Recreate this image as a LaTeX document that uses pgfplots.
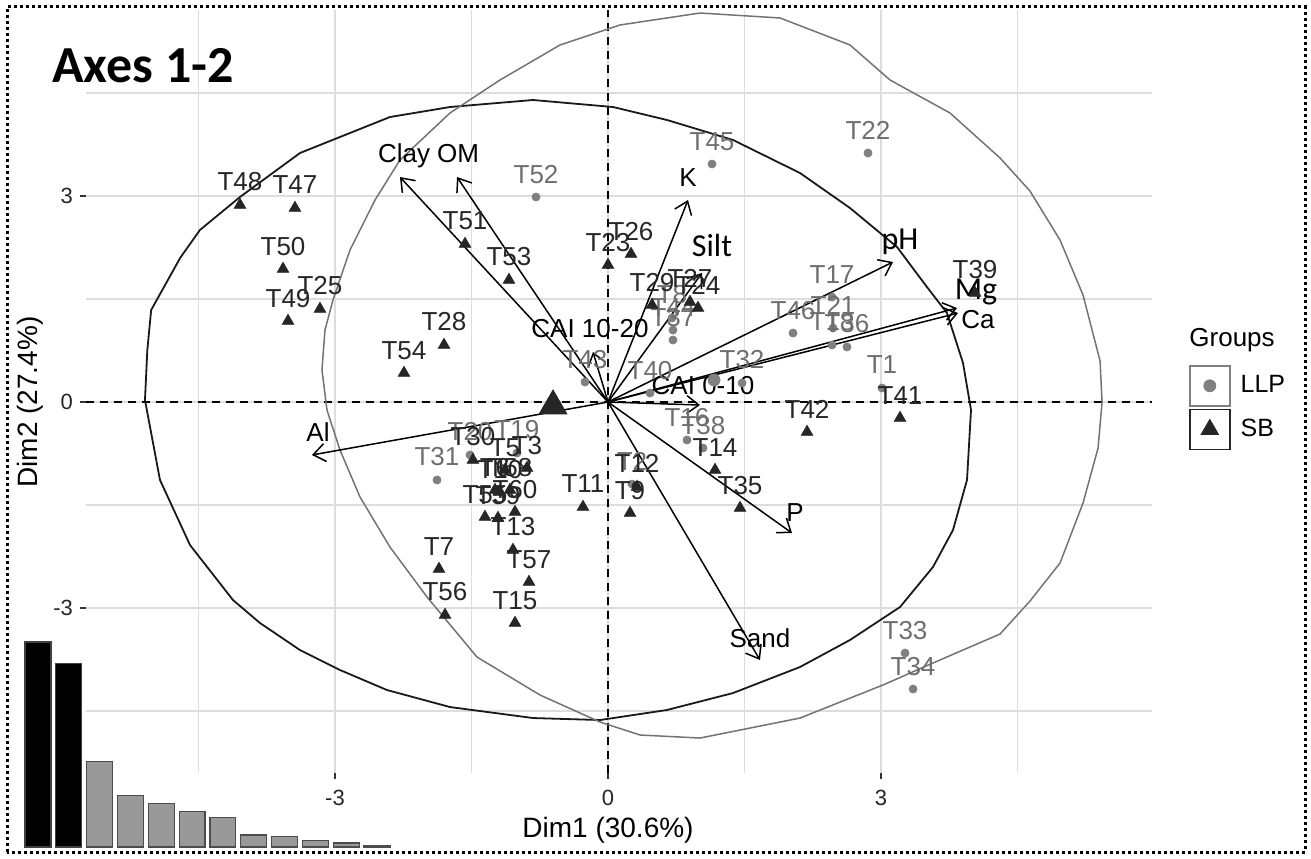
\documentclass[border=0pt]{standalone}
\usepackage{fontspec}
\setmainfont{Liberation Sans}
\newfontfamily\carlito{Carlito}
\usepackage{pgfplots}
\pgfplotsset{compat=1.18}
\usetikzlibrary{arrows.meta}
\definecolor{llp}{HTML}{808080}
\definecolor{llptext}{HTML}{6E6E6E}
\definecolor{sb}{HTML}{262626}
\definecolor{gridc}{HTML}{DDDDDD}
\pgfplotstableread{
x y lab
-4.044 2.868 T48
-3.440 2.824 T47
-3.571 1.936 T50
-3.516 1.179 T49
-3.165 1.354 T25
-1.571 2.300 T51
-1.088 1.776 T53
-1.802 0.830 T28
-2.242 0.422 T54
0.000 1.994 T23
0.253 2.154 T26
0.484 1.412 T29
0.901 1.456 T27
0.989 1.368 T24
4.033 1.587 T39
3.209 -0.233 T41
2.187 -0.437 T42
1.176 -0.990 T14
1.451 -1.543 T35
0.319 -1.237 T12
0.242 -1.616 T9
-0.275 -1.528 T11
-0.890 -0.961 T3
-1.132 -0.990 T5
-1.484 -0.844 T30
-1.077 -1.281 T58
-1.242 -1.281 T6
-1.187 -1.310 T10
-1.022 -1.601 T60
-1.209 -1.689 T59
-1.352 -1.674 T55
-1.044 -2.154 T13
-0.868 -2.620 T57
-1.022 -3.217 T15
-1.857 -2.431 T7
-1.791 -3.100 T56
}\sbtable
\pgfplotstableread{
x y lab
1.143 3.464 T45
2.857 3.624 T22
-0.791 2.984 T52
2.462 1.528 T17
2.033 1.004 T46
2.473 1.077 T21
2.462 0.830 T18
2.626 0.801 T36
3.011 0.204 T1
0.703 1.223 T8
0.714 1.048 T44
0.714 0.902 T37
1.473 0.277 T32
0.462 0.131 T40
-0.253 0.291 T43
0.868 -0.553 T16
1.044 -0.670 T38
0.264 -1.194 T2
-1.000 -0.742 T19
-1.516 -0.771 T20
-1.879 -1.135 T31
3.264 -3.654 T33
3.352 -4.178 T34
}\llptable
\begin{document}
\begin{tikzpicture}[x=0.5pt,y=0.5pt]
\begin{axis}[
  at={(43pt,42.5pt)}, anchor=south west,
  width=533pt, height=381.5pt, scale only axis,
  xmin=-5.736, xmax=5.978, ymin=-5.40, ymax=5.706,
  axis x line*=bottom, axis y line*=left, axis line style={draw=none},
  xtick={-3,0,3}, ytick={-3,0,3},
  minor xtick={-4.5,-1.5,1.5,4.5}, minor ytick={-4.5,-1.5,1.5,4.5},
  grid=both, major grid style={gridc, line width=0.9pt}, minor grid style={gridc, line width=0.75pt},
  tick align=outside, major tick length=3pt, minor tick length=0pt,
  tick style={black!80, line width=0.7pt},
  /pgf/number format/assume math mode=true,
  xticklabel style={font=\fontsize{11}{13}\selectfont, text=black!85, yshift=-2pt},
  yticklabel style={font=\fontsize{11}{13}\selectfont, text=black!85},
  clip=false,
  every axis plot/.append style={forget plot},
]
% zero lines
\addplot[black, line width=0.75pt, dash pattern=on 4pt off 3pt] coordinates {(-5.736,0) (5.978,0)};
\addplot[black, line width=0.75pt, dash pattern=on 4pt off 3pt] coordinates {(0,-5.40) (0,5.706)};
% SB concentration ellipse
\addplot[black!90, line width=0.9pt] coordinates {
(-5.088,0.029) (-5.062,0.757) (-5.020,1.339) (-4.700,2.100) (-4.484,2.504) (-4.044,2.984)
(-3.385,3.624) (-2.396,4.148) (-1.736,4.294) (-0.824,4.396) (0.055,4.294) (0.648,4.105)
(1.374,3.814) (2.110,3.333) (2.659,2.824) (3.176,2.256) (3.505,1.674) (3.725,1.295)
(3.901,0.568) (3.989,-0.116) (3.945,-1.135) (3.791,-1.863) (3.571,-2.402) (3.209,-2.984)
(2.659,-3.464) (2.110,-3.857) (1.374,-4.236) (0.648,-4.483) (-0.088,-4.629) (-0.824,-4.600)
(-1.736,-4.440) (-2.429,-4.192) (-2.945,-3.901) (-3.385,-3.610) (-3.824,-3.217) (-4.121,-2.882)
(-4.593,-2.082) (-4.923,-1.135) (-5.088,0.029)};
% LLP concentration ellipse
\addplot[black!55, line width=0.75pt] coordinates {
(-3.143,0.466) (-3.110,1.048) (-3.022,1.485) (-2.835,2.213) (-2.560,2.940) (-2.286,3.523)
(-1.736,4.207) (-1.187,4.687) (-0.527,5.197) (0.132,5.488) (1.011,5.662) (1.890,5.590)
(2.659,5.197) (3.099,4.687) (3.758,4.207) (4.308,3.552) (4.637,3.071) (4.967,2.358)
(5.220,1.557) (5.407,0.597) (5.429,0.000) (5.385,-0.670) (5.220,-1.470) (4.967,-2.344)
(4.637,-2.897) (4.308,-3.377) (3.571,-3.799) (3.022,-4.119) (2.110,-4.600) (1.011,-4.891)
(0.352,-4.847) (-0.088,-4.658) (-0.747,-4.265) (-1.440,-3.712) (-1.989,-2.838) (-2.396,-2.111)
(-2.725,-1.383) (-2.945,-0.699) (-3.088,-0.116) (-3.143,0.466)};
% individuals
\addplot[only marks, mark=*, mark size=2pt, color=llp,
  nodes near coords, point meta=explicit symbolic, nodes near coords align={anchor=base},
  every node near coord/.append style={anchor=base, yshift=7pt, font=\fontsize{13}{15}\selectfont, text=llptext}]
  table[x=x, y=y, meta=lab] {\llptable};
\addplot[only marks, mark=triangle*, mark size=3.3pt, color=sb,
  nodes near coords, point meta=explicit symbolic, nodes near coords align={anchor=base},
  every node near coord/.append style={anchor=base, yshift=7pt, font=\fontsize{13}{15}\selectfont, text=sb}]
  table[x=x, y=y, meta=lab] {\sbtable};
% group means
\addplot[only marks, mark=triangle*, mark size=8pt, color=sb] coordinates {(-0.604,-0.058)};
\addplot[only marks, mark=*, mark size=3pt, color=llp] coordinates {(1.165,0.320)};
% variable arrows
\pgfplotsset{varr/.style={black, line width=0.75pt, -{Straight Barb[length=6pt, width=9pt, line width=0.75pt]}}}
\addplot[varr] coordinates {(0,0) (-2.286,3.275)};
\addplot[varr] coordinates {(0,0) (-1.659,3.275)};
\addplot[varr] coordinates {(0,0) (0.879,2.940)};
\addplot[varr] coordinates {(0,0) (1.033,1.878)};
\addplot[varr] coordinates {(0,0) (-0.165,0.728)};
\addplot[varr] coordinates {(0,0) (3.132,2.038)};
\addplot[varr] coordinates {(0,0) (3.835,1.368)};
\addplot[varr] coordinates {(0,0) (3.846,1.295)};
\addplot[varr] coordinates {(0,0) (1.011,-0.044)};
\addplot[varr] coordinates {(0,0) (2.022,-1.907)};
\addplot[varr] coordinates {(0,0) (1.670,-3.755)};
\addplot[varr] coordinates {(0,0) (-3.253,-0.771)};
% variable labels
\begin{scope}[every node/.style={anchor=base, inner sep=0pt, font=\fontsize{13}{15}\selectfont, text=black}]
\node at (axis cs:-2.240,3.493) {Clay};
\node at (axis cs:-1.648,3.493) {OM};
\node at (axis cs:0.879,3.130) {K};
\node[font=\carlito\fontsize{16}{18}\selectfont] at (axis cs:1.143,2.125) {Silt};
\node at (axis cs:-0.198,0.946) {CAI 10-20};
\node[font=\carlito\fontsize{16}{18}\selectfont] at (axis cs:3.209,2.227) {pH};
\node[font=\carlito\fontsize{16}{18}\selectfont] at (axis cs:4.044,1.485) {Mg};
\node at (axis cs:4.066,1.063) {Ca};
\node at (axis cs:1.044,0.116) {CAI 0-10};
\node at (axis cs:2.055,-1.732) {P};
\node at (axis cs:1.670,-3.566) {Sand};
\node at (axis cs:-3.187,-0.568) {Al};
\end{scope}
\end{axis}
% scree plot inset
\begin{axis}[at={(11.3pt,5.5pt)}, anchor=south west, width=184.9pt, height=103.85pt, scale only axis,
  xmin=0.5, xmax=12.5, ymin=0, ymax=31, hide axis, ybar, bar width=0.84, bar shift=0pt]
\addplot[fill=black, draw=black!75, line width=0.6pt] coordinates {(1,30.6) (2,27.4)};
\addplot[fill=black!40, draw=black!70, line width=0.6pt] coordinates {(3,12.8) (4,7.7) (5,6.5) (6,5.3) (7,4.4) (8,1.8) (9,1.6) (10,1.0) (11,0.6) (12,0.15)};
\end{axis}
% legend
\begin{axis}[at={(594.5pt,246.5pt)}, anchor=south west, width=10pt, height=10pt, scale only axis,
  xmin=0, xmax=1, ymin=0, ymax=1, hide axis,
  legend style={at={(0,0)}, anchor=north west, draw=none, fill=none, inner sep=0pt, outer sep=0pt,
    row sep=1pt, column sep=5pt, font=\fontsize{12.5}{14}\selectfont, nodes={inner sep=0pt}},
  legend cell align=left]
\addlegendimage{only marks, mark=*, mark size=3pt, llp,
  legend image code/.code={\draw[llp, line width=0.8pt, fill=white] (0pt,-10pt) rectangle (20pt,10pt);
    \draw[mark repeat=1, mark phase=1] plot coordinates {(10pt,0pt)};}}
\addlegendentry{LLP}
\addlegendimage{only marks, mark=triangle*, mark size=5pt, sb,
  legend image code/.code={\draw[sb, line width=0.8pt, fill=white] (0pt,-10pt) rectangle (20pt,10pt);
    \draw[mark repeat=1, mark phase=1] plot coordinates {(10pt,0pt)};}}
\addlegendentry{SB}
\end{axis}
\node[anchor=base west, inner sep=0pt, font=\fontsize{13}{15}\selectfont] at (1189,511) {Groups};
% titles
\node[anchor=base west, inner sep=0pt, font=\carlito\bfseries\fontsize{26}{30}\selectfont] at (52,775) {Axes 1-2};
\node[inner sep=0pt, font=\fontsize{14}{16}\selectfont] at (608,28) {Dim1 (30.6\%)};
\node[inner sep=0pt, rotate=90, font=\fontsize{14}{16}\selectfont] at (30,456) {Dim2 (27.4\%)};
% border
\draw[black, line width=1.5pt, dash pattern=on 1.5pt off 1.5pt] (7,6) rectangle (1305,851);
\path (0,0) rectangle (1311,858);
\end{tikzpicture}
\end{document}
